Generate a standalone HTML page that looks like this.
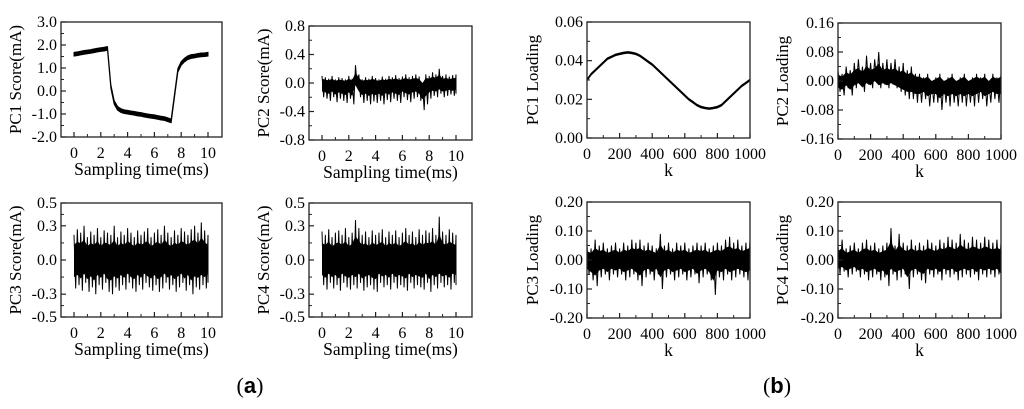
<!DOCTYPE html>
<html><head><meta charset="utf-8"><style>
body{margin:0;background:#fff;}
svg{display:block;font-family:"Liberation Serif",serif;}
</style></head><body>
<svg id="fig" width="1024" height="409" viewBox="0 0 1024 409" xmlns="http://www.w3.org/2000/svg">
<text x="250" y="393" text-anchor="middle" font-size="22">(<tspan font-weight="bold" font-family="Liberation Sans, sans-serif">a</tspan>)</text>
<text x="777" y="393" text-anchor="middle" font-size="22">(<tspan font-weight="bold" font-family="Liberation Sans, sans-serif">b</tspan>)</text>
</svg>
<script>
// ---- data ----
const timeTicks = [0,2,4,6,8,10];
const kTicks = [0,200,400,600,800,1000];
const tSamples = [0,0.25,0.5,0.75,1,1.25,1.5,1.75,2,2.25,2.5,2.75,3,3.25,3.5,3.75,4,4.25,4.5,4.75,5,5.25,5.5,5.75,6,6.25,6.5,6.75,7,7.25,7.5,7.75,8,8.25,8.5,8.75,9,9.25,9.5,9.75,10];
const kSamples = [0,25,50,75,100,125,150,175,200,225,250,275,300,325,350,375,400,425,450,475,500,525,550,575,600,625,650,675,700,725,750,775,800,825,850,875,900,925,950,975,1000];
const pc1ScoreMid = [1.6,1.62,1.65,1.68,1.7,1.72,1.75,1.78,1.8,1.82,1.85,0.2,-0.5,-0.75,-0.85,-0.9,-0.92,-0.95,-0.97,-1.0,-1.02,-1.05,-1.08,-1.1,-1.12,-1.15,-1.18,-1.2,-1.25,-1.3,-0.2,0.9,1.2,1.35,1.45,1.5,1.52,1.55,1.57,1.58,1.6];
const pc2ScoreHi = [0.1,0.08,0.06,0.1,0.05,0.08,0.07,0.05,0.1,0.06,0.25,0.12,0.05,0.08,0.06,0.1,0.07,0.05,0.09,0.06,0.1,0.08,0.11,0.07,0.09,0.12,0.08,0.1,0.12,0.09,0.0,0.12,0.1,0.15,0.12,0.2,0.1,0.12,0.09,0.11,0.12];
const pc2ScoreLo = [-0.2,-0.22,-0.25,-0.2,-0.27,-0.22,-0.25,-0.28,-0.22,-0.3,-0.05,-0.2,-0.28,-0.25,-0.3,-0.26,-0.28,-0.25,-0.3,-0.24,-0.27,-0.22,-0.25,-0.28,-0.2,-0.24,-0.27,-0.22,-0.2,-0.25,-0.38,-0.3,-0.22,-0.18,-0.2,-0.15,-0.2,-0.18,-0.16,-0.18,-0.15];
const pc3ScoreHi = [0.22,0.27,0.24,0.3,0.2,0.25,0.22,0.28,0.2,0.26,0.24,0.22,0.3,0.2,0.25,0.22,0.28,0.24,0.2,0.26,0.22,0.25,0.28,0.2,0.24,0.27,0.22,0.3,0.24,0.2,0.26,0.22,0.28,0.25,0.22,0.27,0.3,0.24,0.33,0.26,0.22];
const pc3ScoreLo = [-0.25,-0.22,-0.27,-0.2,-0.28,-0.24,-0.3,-0.22,-0.26,-0.2,-0.28,-0.3,-0.24,-0.27,-0.22,-0.26,-0.2,-0.25,-0.28,-0.22,-0.26,-0.2,-0.24,-0.27,-0.22,-0.28,-0.25,-0.2,-0.26,-0.22,-0.28,-0.24,-0.2,-0.27,-0.22,-0.3,-0.24,-0.26,-0.22,-0.25,-0.2];
const pc4ScoreHi = [0.25,0.22,0.27,0.2,0.24,0.26,0.22,0.28,0.2,0.24,0.35,0.28,0.22,0.25,0.2,0.26,0.22,0.24,0.27,0.2,0.25,0.22,0.26,0.2,0.24,0.28,0.22,0.25,0.2,0.27,0.22,0.26,0.24,0.28,0.22,0.38,0.25,0.22,0.27,0.24,0.22];
const pc4ScoreLo = [-0.22,-0.26,-0.2,-0.25,-0.22,-0.27,-0.2,-0.24,-0.26,-0.22,-0.25,-0.2,-0.27,-0.24,-0.22,-0.26,-0.28,-0.2,-0.24,-0.22,-0.26,-0.2,-0.25,-0.22,-0.24,-0.27,-0.2,-0.25,-0.22,-0.24,-0.26,-0.2,-0.28,-0.22,-0.25,-0.2,-0.24,-0.22,-0.26,-0.2,-0.22];
const pc1LoadMid = [0.030,0.033,0.035,0.037,0.039,0.041,0.042,0.043,0.0435,0.044,0.0443,0.044,0.0435,0.0425,0.041,0.0395,0.038,0.036,0.034,0.032,0.030,0.028,0.026,0.024,0.022,0.020,0.0185,0.017,0.016,0.0155,0.0152,0.0155,0.016,0.017,0.019,0.021,0.023,0.025,0.027,0.0285,0.030];
const pc2LoadHi = [0.03,0.02,0.04,0.03,0.05,0.06,0.04,0.07,0.05,0.06,0.08,0.05,0.06,0.05,0.06,0.04,0.05,0.03,0.04,0.02,0.02,0.01,0.02,0.0,0.01,0.02,0.0,0.01,0.02,0.0,0.01,0.02,0.0,0.01,0.02,0.01,0.02,0.0,0.02,0.01,0.02];
const pc2LoadLo = [-0.03,-0.04,-0.02,-0.04,-0.02,-0.01,-0.03,-0.01,-0.02,0.0,-0.02,-0.01,-0.02,-0.01,-0.02,-0.03,-0.04,-0.05,-0.05,-0.06,-0.06,-0.05,-0.07,-0.06,-0.06,-0.08,-0.06,-0.07,-0.06,-0.07,-0.06,-0.07,-0.06,-0.07,-0.06,-0.05,-0.07,-0.06,-0.05,-0.06,-0.06];
const pc3LoadHi = [0.05,0.04,0.07,0.05,0.06,0.04,0.05,0.06,0.04,0.06,0.05,0.07,0.06,0.07,0.05,0.06,0.05,0.04,0.09,0.05,0.06,0.04,0.06,0.05,0.06,0.04,0.05,0.06,0.05,0.06,0.04,0.05,0.06,0.05,0.07,0.08,0.06,0.07,0.05,0.06,0.07];
const pc3LoadLo = [-0.05,-0.07,-0.09,-0.06,-0.05,-0.07,-0.05,-0.06,-0.05,-0.07,-0.06,-0.05,-0.07,-0.09,-0.06,-0.05,-0.07,-0.05,-0.1,-0.06,-0.05,-0.07,-0.06,-0.05,-0.07,-0.06,-0.05,-0.08,-0.06,-0.05,-0.07,-0.12,-0.06,-0.07,-0.05,-0.07,-0.06,-0.05,-0.06,-0.07,-0.06];
const pc4LoadHi = [0.05,0.07,0.04,0.05,0.06,0.04,0.06,0.07,0.05,0.06,0.04,0.05,0.06,0.11,0.05,0.09,0.06,0.05,0.07,0.05,0.06,0.05,0.07,0.06,0.05,0.07,0.06,0.08,0.07,0.06,0.09,0.07,0.06,0.08,0.07,0.06,0.08,0.07,0.06,0.07,0.06];
const pc4LoadLo = [-0.05,-0.04,-0.06,-0.05,-0.04,-0.06,-0.05,-0.07,-0.06,-0.05,-0.07,-0.06,-0.09,-0.05,-0.07,-0.06,-0.05,-0.1,-0.06,-0.05,-0.07,-0.08,-0.05,-0.06,-0.05,-0.07,-0.05,-0.06,-0.05,-0.07,-0.06,-0.05,-0.06,-0.05,-0.07,-0.05,-0.06,-0.05,-0.06,-0.05,-0.08];

const NS = "http://www.w3.org/2000/svg";
const svg = document.getElementById('fig');
function mk(tag, attrs, parent){ const e=document.createElementNS(NS,tag); for(const k in attrs) e.setAttribute(k,attrs[k]); (parent||svg).appendChild(e); return e; }

function panel(cfg){
  const g = mk('g',{});
  
  
  const L=cfg.box[0], R=cfg.box[1], T=cfg.box[2], B=cfg.box[3];
  const x0=cfg.xPix[0], x1=cfg.xPix[1];
  const sx = v => x0 + (v - cfg.xr[0])/(cfg.xr[1]-cfg.xr[0])*(x1-x0);
  const sy = v => B - (v - cfg.yr[0])/(cfg.yr[1]-cfg.yr[0])*(B-T);
  if(cfg.mid){
    const up = cfg.xs.map((x,i)=>sx(x)+','+sy(cfg.mid[i]+cfg.band));
    const dn = cfg.xs.map((x,i)=>sx(x)+','+sy(cfg.mid[i]-cfg.band)).reverse();
    const band = mk('polygon',{points:up.concat(dn).join(' '),fill:'#000',stroke:'#000','stroke-width':cfg.sw||1},g);
    
    
  } else {
    const xs=cfg.xs;
    const up = xs.map((x,i)=>sx(x)+','+sy(cfg.hi[i]*0.6));
    const dn = xs.map((x,i)=>sx(x)+','+sy(cfg.lo[i]*0.6)).reverse();
    const core = mk('polygon',{points:up.concat(dn).join(' '),fill:'#000'},g);
    
    
    const z=[];
    for(let i=0;i<xs.length;i++){
      const xa=sx(xs[i]);
      const xb = i<xs.length-1 ? (sx(xs[i])+sx(xs[i+1]))/2 : xa;
      z.push(xa+','+sy(cfg.hi[i])); z.push(xb+','+sy(cfg.lo[i]));
    }
    const line = mk('polyline',{points:z.join(' '),fill:'none',stroke:'#000','stroke-width':1},g);
    
    
  }
  const box = mk('rect',{x:L,y:T,width:R-L,height:B-T,fill:'none',stroke:'#222','stroke-width':1.3},g);
  
  
  cfg.xt.forEach((v,i)=>{
    const x=sx(v);
    mk('line',{x1:x,x2:x,y1:B,y2:B-5,stroke:'#222','stroke-width':1.2},g);
    if(i<cfg.xt.length-1){ const xm=sx((v+cfg.xt[i+1])/2); mk('line',{x1:xm,x2:xm,y1:B,y2:B-3,stroke:'#222','stroke-width':1},g); }
    const t = mk('text',{x:x,y:B+21,'text-anchor':'middle','font-size':16},g);
    t.textContent = v;
    
    
  });
  cfg.yt.forEach((v,i)=>{
    const y=sy(v);
    mk('line',{x1:L,x2:L+5,y1:y,y2:y,stroke:'#222','stroke-width':1.2},g);
    if(i<cfg.yt.length-1){ const ym=sy((v+cfg.yt[i+1])/2); mk('line',{x1:L,x2:L+3,y1:ym,y2:ym,stroke:'#222','stroke-width':1},g); }
    const t = mk('text',{x:L-4,y:y+5,'text-anchor':'end','font-size':16},g);
    t.textContent = cfg.ylab[i];
    
    
  });
  const xt = mk('text',{x:(L+R)/2,y:B+38,'text-anchor':'middle','font-size':17.5},g);
  xt.textContent = cfg.xtitle;
  
  
  const cy=(T+B)/2;
  const yt = mk('text',{x:cfg.ytx,y:cy,'text-anchor':'middle','font-size':17,transform:`rotate(-90 ${cfg.ytx} ${cy})`},g);
  yt.textContent = cfg.ytitle;
  
  
}
const sT='Sampling time(ms)';
panel({name:'pc1-score-chart',box:[61,222,22,137],xPix:[74,208],xr:[0,10],yr:[-2,3],xs:tSamples,mid:pc1ScoreMid,band:0.08,sw:1,xt:timeTicks,yt:[-2,-1,0,1,2,3],ylab:['-2.0','-1.0','0.0','1.0','2.0','3.0'],xtitle:sT,ytitle:'PC1 Score(mA)',ytx:21});
panel({name:'pc2-score-chart',box:[309,472,26,140],xPix:[322,456],xr:[0,10],yr:[-0.8,0.8],xs:tSamples,hi:pc2ScoreHi,lo:pc2ScoreLo,xt:timeTicks,yt:[-0.8,-0.4,0,0.4,0.8],ylab:['-0.8','-0.4','0.0','0.4','0.8'],xtitle:sT,ytitle:'PC2 Score(mA)',ytx:269});
panel({name:'pc3-score-chart',box:[61,222,203,317],xPix:[74,208],xr:[0,10],yr:[-0.5,0.5],xs:tSamples,hi:pc3ScoreHi,lo:pc3ScoreLo,xt:timeTicks,yt:[-0.5,-0.3,0,0.3,0.5],ylab:['-0.5','-0.3','0.0','0.3','0.5'],xtitle:sT,ytitle:'PC3 Score(mA)',ytx:21});
panel({name:'pc4-score-chart',box:[309,472,203,317],xPix:[322,456],xr:[0,10],yr:[-0.5,0.5],xs:tSamples,hi:pc4ScoreHi,lo:pc4ScoreLo,xt:timeTicks,yt:[-0.5,-0.3,0,0.3,0.5],ylab:['-0.5','-0.3','0.0','0.3','0.5'],xtitle:sT,ytitle:'PC4 Score(mA)',ytx:269});
panel({name:'pc1-loading-chart',box:[587,750,22,138],xPix:[587,750],xr:[0,1000],yr:[0,0.06],xs:kSamples,mid:pc1LoadMid,band:0.0004,sw:1,xt:kTicks,yt:[0,0.02,0.04,0.06],ylab:['0.00','0.02','0.04','0.06'],xtitle:'k',ytitle:'PC1 Loading',ytx:538});
panel({name:'pc2-loading-chart',box:[838,1001,23,139],xPix:[838,1001],xr:[0,1000],yr:[-0.16,0.16],xs:kSamples,hi:pc2LoadHi,lo:pc2LoadLo,xt:kTicks,yt:[-0.16,-0.08,0,0.08,0.16],ylab:['-0.16','-0.08','0.00','0.08','0.16'],xtitle:'k',ytitle:'PC2 Loading',ytx:788});
panel({name:'pc3-loading-chart',box:[587,750,202,318],xPix:[587,750],xr:[0,1000],yr:[-0.2,0.2],xs:kSamples,hi:pc3LoadHi,lo:pc3LoadLo,xt:kTicks,yt:[-0.2,-0.1,0,0.1,0.2],ylab:['-0.20','-0.10','0.00','0.10','0.20'],xtitle:'k',ytitle:'PC3 Loading',ytx:538});
panel({name:'pc4-loading-chart',box:[838,1001,202,318],xPix:[838,1001],xr:[0,1000],yr:[-0.2,0.2],xs:kSamples,hi:pc4LoadHi,lo:pc4LoadLo,xt:kTicks,yt:[-0.2,-0.1,0,0.1,0.2],ylab:['-0.20','-0.10','0.00','0.10','0.20'],xtitle:'k',ytitle:'PC4 Loading',ytx:788});
</script>
</body></html>
